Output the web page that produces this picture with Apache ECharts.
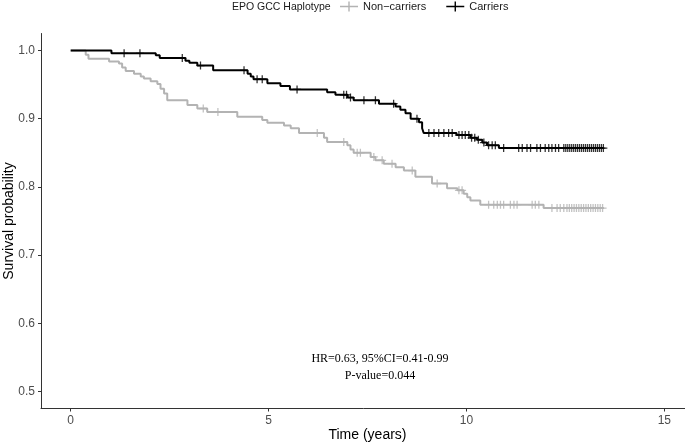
<!DOCTYPE html>
<html><head><meta charset="utf-8">
<script src="https://cdn.jsdelivr.net/npm/echarts@6/dist/echarts.min.js"></script>
<style>html,body{margin:0;padding:0;background:#fff}#c{width:685px;height:443px}</style>
</head><body><div id="c"></div>
<script>
// ---- data ----
const legendTitle = 'EPO GCC Haplotype';
const groupNames = ['Non\u2212carriers', 'Carriers'];
const xTicks = [0, 5, 10, 15];
const yTicks = [0.5, 0.6, 0.7, 0.8, 0.9, 1.0];
const annotationLines = ['HR=0.63, 95%CI=0.41-0.99', 'P-value=0.044'];

const nonCarrierTimes = [0, 0.38, 0.45, 0.97, 1.22, 1.30, 1.39, 1.60, 1.77, 1.85, 2.02, 2.19, 2.27, 2.36, 2.44, 2.95, 3.20, 3.45, 4.21, 4.84, 4.97, 5.39, 5.56, 5.77, 6.40, 6.48, 6.99, 7.07, 7.15, 7.58, 7.70, 7.91, 8.21, 8.42, 8.71, 9.13, 9.51, 9.77, 9.93, 10.02, 10.10, 10.35, 11.95, 13.47];
const nonCarrierSurv  = [1.0, 0.994, 0.988, 0.984, 0.981, 0.975, 0.970, 0.966, 0.962, 0.959, 0.955, 0.951, 0.944, 0.937, 0.927, 0.920, 0.915, 0.910, 0.903, 0.898, 0.894, 0.890, 0.886, 0.879, 0.872, 0.866, 0.861, 0.855, 0.850, 0.844, 0.839, 0.834, 0.829, 0.824, 0.815, 0.805, 0.798, 0.795, 0.790, 0.785, 0.780, 0.774, 0.769, 0.769];
const nonCarrierCensor = [3.35, 3.72, 6.23, 6.90, 7.24, 7.32, 7.66, 7.87, 8.12, 8.63, 9.26, 9.81, 9.89, 10.56, 10.69, 10.78, 10.86, 10.94, 11.11, 11.20, 11.28, 11.66, 11.74, 11.83, 12.16, 12.29, 12.37, 12.46, 12.54, 12.60, 12.66, 12.72, 12.78, 12.84, 12.90, 12.96, 13.02, 13.08, 13.14, 13.20, 13.26, 13.32, 13.38, 13.44];

const carrierTimes = [0, 1.03, 2.15, 2.25, 2.90, 3.00, 3.20, 3.60, 4.47, 4.55, 4.62, 4.97, 5.30, 5.54, 6.48, 6.69, 7.00, 7.15, 7.79, 8.21, 8.33, 8.46, 8.59, 8.80, 8.88, 8.92, 9.75, 10.10, 10.27, 10.40, 10.52, 10.82, 13.47];
const carrierSurv  = [1.0, 0.996, 0.993, 0.989, 0.985, 0.982, 0.978, 0.971, 0.966, 0.962, 0.958, 0.952, 0.948, 0.943, 0.939, 0.935, 0.931, 0.927, 0.922, 0.918, 0.913, 0.908, 0.900, 0.895, 0.886, 0.879, 0.876, 0.872, 0.869, 0.865, 0.861, 0.857, 0.857];
const carrierCensor = [1.35, 1.75, 2.82, 3.28, 4.38, 4.71, 4.84, 5.72, 6.90, 6.97, 7.07, 7.41, 7.70, 8.16, 8.75, 9.05, 9.18, 9.30, 9.43, 9.55, 9.64, 9.81, 9.89, 9.97, 10.06, 10.13, 10.21, 10.30, 10.44, 10.56, 10.65, 10.73, 10.94, 11.32, 11.41, 11.53, 11.62, 11.78, 11.87, 11.99, 12.08, 12.16, 12.25, 12.33, 12.46, 12.51, 12.56, 12.61, 12.66, 12.71, 12.76, 12.81, 12.86, 12.91, 12.96, 13.01, 13.06, 13.11, 13.16, 13.21, 13.26, 13.31, 13.36, 13.41, 13.46];

// ---- helpers ----
function stepAt(times, surv, t) {
  let s = surv[0];
  for (let i = 0; i < times.length; i++) if (times[i] <= t) s = surv[i];
  return s;
}
const zip = (a, b) => a.map((v, i) => [v, b[i]]);
const censorPts = (c, t, s) => c.map(x => [x, stepAt(t, s, x)]);

const plusPath = 'path://M-0.8,-5L0.8,-5L0.8,-0.8L5,-0.8L5,0.8L0.8,0.8L0.8,5L-0.8,5L-0.8,0.8L-5,0.8L-5,-0.8L-0.8,-0.8Z';
const legendIcon = 'path://M0,4.3L18,4.3L18,5.7L0,5.7Z M8.3,0L9.7,0L9.7,10L8.3,10Z';
const GRAY = '#b3b3b3', BLACK = '#000000';
const font = '"Liberation Sans", Arial, sans-serif';

const chart = echarts.init(document.getElementById('c'), null, {renderer: 'canvas'});
chart.setOption({
  animation: false,
  backgroundColor: '#ffffff',
  grid: {left: 41, right: -9, top: 33.5, bottom: 34.5, containLabel: false, outerBoundsMode: 'none'},
  legend: {
    left: 340, top: 1, padding: 0, itemWidth: 18, itemHeight: 10, itemGap: 20,
    textStyle: {fontFamily: font, fontSize: 11, color: '#1a1a1a'},
    data: [{name: groupNames[0], icon: legendIcon}, {name: groupNames[1], icon: legendIcon}]
  },
  graphic: [
    {type: 'text', left: 232, top: 0.5, style: {text: legendTitle, font: '10.5px ' + font, fill: '#1a1a1a', lineHeight: 13}},
    {type: 'text', x: 380, y: 359, style: {text: annotationLines[0], font: '12px "Liberation Serif", "Times New Roman", serif', fill: '#000', textAlign: 'center', textVerticalAlign: 'middle'}},
    {type: 'text', x: 380, y: 376, style: {text: annotationLines[1], font: '12px "Liberation Serif", "Times New Roman", serif', fill: '#000', textAlign: 'center', textVerticalAlign: 'middle'}}
  ],
  xAxis: {
    type: 'value', min: -0.75, max: 15.75,
    name: 'Time (years)', nameLocation: 'middle', nameGap: 20, nameMoveOverlap: false,
    nameTextStyle: {fontFamily: font, fontSize: 14, color: '#000'},
    splitLine: {show: false},
    axisLine: {onZero: false, lineStyle: {color: '#333', width: 1}},
    axisTick: {length: 3, lineStyle: {color: '#333'}, customValues: xTicks},
    axisLabel: {customValues: xTicks, margin: 6, fontFamily: font, fontSize: 12, color: '#4d4d4d'}
  },
  yAxis: {
    type: 'value', min: 0.475, max: 1.025,
    name: 'Survival probability', nameLocation: 'middle', nameGap: 25, nameRotate: 90, nameMoveOverlap: false,
    nameTextStyle: {fontFamily: font, fontSize: 14, color: '#000'},
    splitLine: {show: false},
    axisLine: {show: true, onZero: false, lineStyle: {color: '#333', width: 1}},
    axisTick: {show: true, length: 3, lineStyle: {color: '#333'}, customValues: yTicks},
    axisLabel: {customValues: yTicks, margin: 6, fontFamily: font, fontSize: 12, color: '#4d4d4d', formatter: v => v.toFixed(1)}
  },
  series: [
    {name: groupNames[0], type: 'line', step: 'end', data: zip(nonCarrierTimes, nonCarrierSurv), showSymbol: false, symbol: 'none', color: GRAY, lineStyle: {color: GRAY, width: 2}, z: 2},
    {name: groupNames[1], type: 'line', step: 'end', data: zip(carrierTimes, carrierSurv), showSymbol: false, symbol: 'none', color: BLACK, lineStyle: {color: BLACK, width: 2}, z: 3},
    {name: 'cens0', type: 'scatter', data: censorPts(nonCarrierCensor, nonCarrierTimes, nonCarrierSurv), symbol: plusPath, symbolSize: 8, itemStyle: {color: GRAY}, z: 2},
    {name: 'cens1', type: 'scatter', data: censorPts(carrierCensor, carrierTimes, carrierSurv), symbol: plusPath, symbolSize: 8, itemStyle: {color: BLACK}, z: 3}
  ]
});
</script>
</body></html>
